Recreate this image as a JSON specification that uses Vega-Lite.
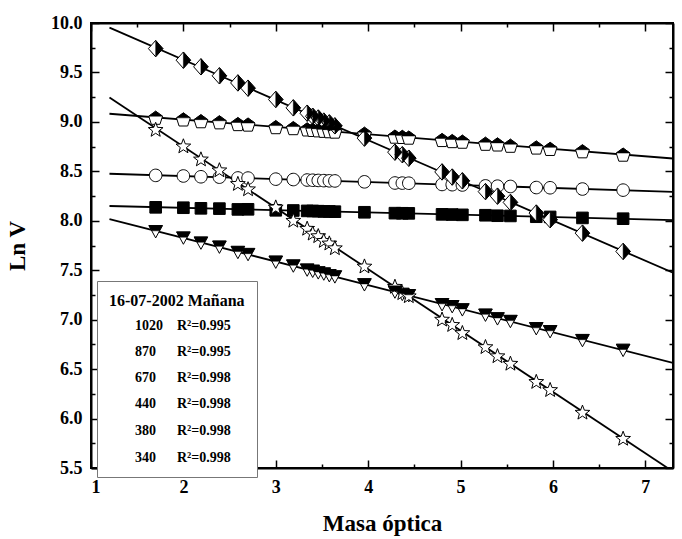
{
  "$schema": "https://vega.github.io/schema/vega-lite/v6.json",
  "width": 582,
  "height": 445,
  "autosize": "none",
  "padding": {"left": 91, "top": 23, "right": 9, "bottom": 71},
  "background": "white",
  "config": {
    "view": {"stroke": "black", "strokeWidth": 2},
    "font": "Liberation Serif",
    "axis": {
      "grid": false,
      "domain": true,
      "ticks": true,
      "domainColor": "black",
      "domainWidth": 2,
      "tickColor": "black",
      "tickWidth": 1.5,
      "labelFont": "Liberation Serif",
      "labelFontWeight": "bold",
      "labelFontSize": 18,
      "labelColor": "black",
      "titleFont": "Liberation Serif",
      "titleFontWeight": "bold",
      "titleFontSize": 23,
      "titleColor": "black"
    }
  },
  "data": {
    "values": [
      {"series": "1020", "am": 1.70, "lnv": 8.136}, {"series": "1020", "am": 2.00, "lnv": 8.132}, {"series": "1020", "am": 2.19, "lnv": 8.126}, {"series": "1020", "am": 2.39, "lnv": 8.123}, {"series": "1020", "am": 2.59, "lnv": 8.115}, {"series": "1020", "am": 2.70, "lnv": 8.116}, {"series": "1020", "am": 3.00, "lnv": 8.106}, {"series": "1020", "am": 3.19, "lnv": 8.104}, {"series": "1020", "am": 3.34, "lnv": 8.100}, {"series": "1020", "am": 3.40, "lnv": 8.099}, {"series": "1020", "am": 3.46, "lnv": 8.097}, {"series": "1020", "am": 3.52, "lnv": 8.095}, {"series": "1020", "am": 3.58, "lnv": 8.094}, {"series": "1020", "am": 3.64, "lnv": 8.092}, {"series": "1020", "am": 3.96, "lnv": 8.086}, {"series": "1020", "am": 4.29, "lnv": 8.077}, {"series": "1020", "am": 4.37, "lnv": 8.076}, {"series": "1020", "am": 4.44, "lnv": 8.075}, {"series": "1020", "am": 4.80, "lnv": 8.065}, {"series": "1020", "am": 4.91, "lnv": 8.063}, {"series": "1020", "am": 5.02, "lnv": 8.060}, {"series": "1020", "am": 5.27, "lnv": 8.056}, {"series": "1020", "am": 5.40, "lnv": 8.051}, {"series": "1020", "am": 5.54, "lnv": 8.049}, {"series": "1020", "am": 5.82, "lnv": 8.041}, {"series": "1020", "am": 5.97, "lnv": 8.039}, {"series": "1020", "am": 6.32, "lnv": 8.029}, {"series": "1020", "am": 6.76, "lnv": 8.021},
      {"series": "870", "am": 1.70, "lnv": 8.459}, {"series": "870", "am": 2.00, "lnv": 8.453}, {"series": "870", "am": 2.19, "lnv": 8.445}, {"series": "870", "am": 2.39, "lnv": 8.441}, {"series": "870", "am": 2.59, "lnv": 8.433}, {"series": "870", "am": 2.70, "lnv": 8.432}, {"series": "870", "am": 3.00, "lnv": 8.421}, {"series": "870", "am": 3.19, "lnv": 8.417}, {"series": "870", "am": 3.34, "lnv": 8.412}, {"series": "870", "am": 3.40, "lnv": 8.410}, {"series": "870", "am": 3.46, "lnv": 8.408}, {"series": "870", "am": 3.52, "lnv": 8.406}, {"series": "870", "am": 3.58, "lnv": 8.404}, {"series": "870", "am": 3.64, "lnv": 8.403}, {"series": "870", "am": 3.96, "lnv": 8.394}, {"series": "870", "am": 4.29, "lnv": 8.382}, {"series": "870", "am": 4.37, "lnv": 8.381}, {"series": "870", "am": 4.44, "lnv": 8.380}, {"series": "870", "am": 4.80, "lnv": 8.367}, {"series": "870", "am": 4.91, "lnv": 8.365}, {"series": "870", "am": 5.02, "lnv": 8.362}, {"series": "870", "am": 5.27, "lnv": 8.353}, {"series": "870", "am": 5.40, "lnv": 8.350}, {"series": "870", "am": 5.54, "lnv": 8.347}, {"series": "870", "am": 5.82, "lnv": 8.336}, {"series": "870", "am": 5.97, "lnv": 8.334}, {"series": "870", "am": 6.32, "lnv": 8.321}, {"series": "870", "am": 6.76, "lnv": 8.310},
      {"series": "670", "am": 1.70, "lnv": 9.042}, {"series": "670", "am": 2.00, "lnv": 9.025}, {"series": "670", "am": 2.19, "lnv": 9.007}, {"series": "670", "am": 2.39, "lnv": 8.996}, {"series": "670", "am": 2.59, "lnv": 8.978}, {"series": "670", "am": 2.70, "lnv": 8.973}, {"series": "670", "am": 3.00, "lnv": 8.947}, {"series": "670", "am": 3.19, "lnv": 8.937}, {"series": "670", "am": 3.34, "lnv": 8.924}, {"series": "670", "am": 3.40, "lnv": 8.919}, {"series": "670", "am": 3.46, "lnv": 8.915}, {"series": "670", "am": 3.52, "lnv": 8.910}, {"series": "670", "am": 3.58, "lnv": 8.906}, {"series": "670", "am": 3.64, "lnv": 8.902}, {"series": "670", "am": 3.96, "lnv": 8.880}, {"series": "670", "am": 4.29, "lnv": 8.851}, {"series": "670", "am": 4.37, "lnv": 8.848}, {"series": "670", "am": 4.44, "lnv": 8.841}, {"series": "670", "am": 4.80, "lnv": 8.817}, {"series": "670", "am": 4.91, "lnv": 8.806}, {"series": "670", "am": 5.02, "lnv": 8.800}, {"series": "670", "am": 5.27, "lnv": 8.779}, {"series": "670", "am": 5.40, "lnv": 8.772}, {"series": "670", "am": 5.54, "lnv": 8.759}, {"series": "670", "am": 5.82, "lnv": 8.741}, {"series": "670", "am": 5.97, "lnv": 8.727}, {"series": "670", "am": 6.32, "lnv": 8.703}, {"series": "670", "am": 6.76, "lnv": 8.669},
      {"series": "440", "am": 1.70, "lnv": 7.893}, {"series": "440", "am": 2.00, "lnv": 7.829}, {"series": "440", "am": 2.19, "lnv": 7.778}, {"series": "440", "am": 2.39, "lnv": 7.737}, {"series": "440", "am": 2.59, "lnv": 7.683}, {"series": "440", "am": 2.70, "lnv": 7.662}, {"series": "440", "am": 3.00, "lnv": 7.585}, {"series": "440", "am": 3.19, "lnv": 7.546}, {"series": "440", "am": 3.34, "lnv": 7.505}, {"series": "440", "am": 3.40, "lnv": 7.493}, {"series": "440", "am": 3.46, "lnv": 7.477}, {"series": "440", "am": 3.52, "lnv": 7.465}, {"series": "440", "am": 3.58, "lnv": 7.448}, {"series": "440", "am": 3.64, "lnv": 7.436}, {"series": "440", "am": 3.96, "lnv": 7.356}, {"series": "440", "am": 4.29, "lnv": 7.283}, {"series": "440", "am": 4.37, "lnv": 7.259}, {"series": "440", "am": 4.44, "lnv": 7.246}, {"series": "440", "am": 4.80, "lnv": 7.155}, {"series": "440", "am": 4.91, "lnv": 7.135}, {"series": "440", "am": 5.02, "lnv": 7.103}, {"series": "440", "am": 5.27, "lnv": 7.049}, {"series": "440", "am": 5.40, "lnv": 7.012}, {"series": "440", "am": 5.54, "lnv": 6.985}, {"series": "440", "am": 5.82, "lnv": 6.912}, {"series": "440", "am": 5.97, "lnv": 6.882}, {"series": "440", "am": 6.32, "lnv": 6.792}, {"series": "440", "am": 6.76, "lnv": 6.693},
      {"series": "380", "am": 1.70, "lnv": 9.741}, {"series": "380", "am": 2.00, "lnv": 9.624}, {"series": "380", "am": 2.19, "lnv": 9.557}, {"series": "380", "am": 2.39, "lnv": 9.466}, {"series": "380", "am": 2.59, "lnv": 9.394}, {"series": "380", "am": 2.70, "lnv": 9.341}, {"series": "380", "am": 3.00, "lnv": 9.227}, {"series": "380", "am": 3.19, "lnv": 9.142}, {"series": "380", "am": 3.34, "lnv": 9.088}, {"series": "380", "am": 3.40, "lnv": 9.057}, {"series": "380", "am": 3.46, "lnv": 9.039}, {"series": "380", "am": 3.52, "lnv": 9.008}, {"series": "380", "am": 3.58, "lnv": 8.990}, {"series": "380", "am": 3.64, "lnv": 8.960}, {"series": "380", "am": 3.96, "lnv": 8.836}, {"series": "380", "am": 4.29, "lnv": 8.694}, {"series": "380", "am": 4.37, "lnv": 8.668}, {"series": "380", "am": 4.44, "lnv": 8.633}, {"series": "380", "am": 4.80, "lnv": 8.494}, {"series": "380", "am": 4.91, "lnv": 8.442}, {"series": "380", "am": 5.02, "lnv": 8.404}, {"series": "380", "am": 5.27, "lnv": 8.295}, {"series": "380", "am": 5.40, "lnv": 8.249}, {"series": "380", "am": 5.54, "lnv": 8.186}, {"series": "380", "am": 5.82, "lnv": 8.078}, {"series": "380", "am": 5.97, "lnv": 8.011}, {"series": "380", "am": 6.32, "lnv": 7.875}, {"series": "380", "am": 6.76, "lnv": 7.690},
      {"series": "340", "am": 1.70, "lnv": 8.925}, {"series": "340", "am": 2.00, "lnv": 8.758}, {"series": "340", "am": 2.19, "lnv": 8.626}, {"series": "340", "am": 2.39, "lnv": 8.516}, {"series": "340", "am": 2.59, "lnv": 8.378}, {"series": "340", "am": 2.70, "lnv": 8.324}, {"series": "340", "am": 3.00, "lnv": 8.140}, {"series": "340", "am": 3.19, "lnv": 8.006}, {"series": "340", "am": 3.34, "lnv": 7.925}, {"series": "340", "am": 3.40, "lnv": 7.876}, {"series": "340", "am": 3.46, "lnv": 7.850}, {"series": "340", "am": 3.52, "lnv": 7.802}, {"series": "340", "am": 3.58, "lnv": 7.776}, {"series": "340", "am": 3.64, "lnv": 7.728}, {"series": "340", "am": 3.96, "lnv": 7.543}, {"series": "340", "am": 4.29, "lnv": 7.338}, {"series": "340", "am": 4.37, "lnv": 7.274}, {"series": "340", "am": 4.44, "lnv": 7.243}, {"series": "340", "am": 4.80, "lnv": 7.006}, {"series": "340", "am": 4.91, "lnv": 6.952}, {"series": "340", "am": 5.02, "lnv": 6.870}, {"series": "340", "am": 5.27, "lnv": 6.728}, {"series": "340", "am": 5.40, "lnv": 6.636}, {"series": "340", "am": 5.54, "lnv": 6.560}, {"series": "340", "am": 5.82, "lnv": 6.376}, {"series": "340", "am": 5.97, "lnv": 6.294}, {"series": "340", "am": 6.32, "lnv": 6.065}, {"series": "340", "am": 6.76, "lnv": 5.801}
    ]
  },
  "layer": [
    {
      "transform": [{"regression": "lnv", "on": "am", "groupby": ["series"], "extent": [1.2, 7.3]}],
      "mark": {"type": "line", "color": "black", "strokeWidth": 1.8, "clip": true},
      "encoding": {
        "x": {
          "field": "am", "type": "quantitative",
          "scale": {"domain": [1, 7.3], "nice": false, "zero": false},
          "axis": {
            "orient": "bottom",
            "title": "Masa óptica",
            "values": [1, 2, 3, 4, 5, 6, 7],
            "format": "d",
            "tickSize": -8,
            "labelPadding": 18,
            "titlePadding": 16
          }
        },
        "y": {
          "field": "lnv", "type": "quantitative",
          "scale": {"domain": [5.5, 10], "nice": false, "zero": false},
          "axis": {
            "orient": "left",
            "title": "Ln V",
            "values": [5.5, 6, 6.5, 7, 7.5, 8, 8.5, 9, 9.5, 10],
            "format": ".1f",
            "tickSize": -8,
            "labelPadding": 17,
            "titlePadding": 21
          }
        },
        "detail": {"field": "series", "type": "nominal"}
      }
    },
    {
      "mark": {"type": "point", "opacity": 0},
      "encoding": {
        "x": {
          "field": "am", "type": "quantitative",
          "axis": {"orient": "bottom", "title": null, "labels": false, "domain": false, "values": [1.5, 2.5, 3.5, 4.5, 5.5, 6.5], "tickSize": -4}
        },
        "y": {
          "field": "lnv", "type": "quantitative",
          "axis": {"orient": "left", "title": null, "labels": false, "domain": false, "values": [5.75, 6.25, 6.75, 7.25, 7.75, 8.25, 8.75, 9.25, 9.75], "tickSize": -4}
        }
      }
    },
    {
      "mark": {"type": "point", "opacity": 0},
      "encoding": {
        "x": {
          "field": "am", "type": "quantitative",
          "axis": {"orient": "top", "title": null, "labels": false, "domain": false, "values": [1.5, 2.5, 3.5, 4.5, 5.5, 6.5], "tickSize": -4}
        },
        "y": {
          "field": "lnv", "type": "quantitative",
          "axis": {"orient": "right", "title": null, "labels": false, "domain": false, "values": [5.75, 6.25, 6.75, 7.25, 7.75, 8.25, 8.75, 9.25, 9.75], "tickSize": -4}
        }
      }
    },
    {
      "mark": {"type": "point", "filled": false, "stroke": "black", "strokeWidth": 1, "size": 240, "opacity": 1, "fillOpacity": 1, "strokeOpacity": 1},
      "encoding": {
        "x": {
          "field": "am", "type": "quantitative",
          "axis": {"orient": "top", "title": null, "labels": false, "values": [1, 2, 3, 4, 5, 6, 7], "tickSize": -8}
        },
        "y": {
          "field": "lnv", "type": "quantitative",
          "axis": {"orient": "right", "title": null, "labels": false, "values": [5.5, 6, 6.5, 7, 7.5, 8, 8.5, 9, 9.5, 10], "tickSize": -8}
        },
        "fill": {
          "condition": {"test": "datum.series == '1020'", "value": "black"},
          "value": "white"
        },
        "shape": {
          "field": "series", "type": "nominal",
          "scale": {
            "domain": ["1020", "870", "670", "440", "380", "340"],
            "range": [
              "M-0.75,-0.75H0.75V0.75H-0.75Z",
              "M0.81,0A0.81,0.81,0,1,1,-0.81,0A0.81,0.81,0,1,1,0.81,0Z",
              "M0,-0.85L0.894,-0.2L0.553,0.85L-0.553,0.85L-0.894,-0.2Z",
              "M-0.875,-0.75L0.875,-0.75L0,0.85Z",
              "M0,-1.06L0.94,0L0,1.06L-0.94,0Z",
              "M0,-0.91L0.247,-0.25L0.951,-0.219L0.399,0.22L0.588,0.899L0,0.51L-0.588,0.899L-0.399,0.22L-0.951,-0.219L-0.247,-0.25Z"
            ]
          },
          "legend": {
            "title": "16-07-2002 Mañana",
            "orient": "none",
            "legendX": 6,
            "legendY": 258,
            "padding": 12,
            "strokeColor": "#777777",
            "fillColor": "white",
            "titleFont": "Liberation Serif",
            "titleFontSize": 16,
            "titleFontWeight": "bold",
            "titleColor": "black",
            "titlePadding": 10,
            "labelFont": "Liberation Serif",
            "labelFontSize": 14,
            "labelFontWeight": "bold",
            "labelColor": "black",
            "labelOffset": 12,
            "symbolSize": 100,
            "symbolStrokeColor": "black",
            "symbolStrokeWidth": 1.2,
            "symbolFillColor": "white",
            "symbolOpacity": 1,
            "rowPadding": 12,
            "labelExpr": "{'1020': '1020\u00a0\u00a0\u00a0\u00a0R²=0.995', '870': '870\u00a0\u00a0\u00a0\u00a0\u00a0\u00a0R²=0.995', '670': '670\u00a0\u00a0\u00a0\u00a0\u00a0\u00a0R²=0.998', '440': '440\u00a0\u00a0\u00a0\u00a0\u00a0\u00a0R²=0.998', '380': '380\u00a0\u00a0\u00a0\u00a0\u00a0\u00a0R²=0.998', '340': '340\u00a0\u00a0\u00a0\u00a0\u00a0\u00a0R²=0.998'}[datum.label]"
          }
        }
      }
    },
    {
      "transform": [{"filter": "datum.series == '670'"}],
      "mark": {"type": "point", "shape": "M0,-0.85L0.894,-0.2L-0.894,-0.2Z", "filled": true, "fill": "black", "stroke": "black", "strokeWidth": 0.5, "size": 240, "opacity": 1},
      "encoding": {
        "x": {"field": "am", "type": "quantitative", "axis": null},
        "y": {"field": "lnv", "type": "quantitative", "axis": null}
      }
    },
    {
      "transform": [{"filter": "datum.series == '440'"}],
      "mark": {"type": "point", "shape": "M-0.875,-0.75L0.875,-0.75L0.5,-0.07L-0.5,-0.07Z", "filled": true, "fill": "black", "stroke": "black", "strokeWidth": 0.5, "size": 240, "opacity": 1},
      "encoding": {
        "x": {"field": "am", "type": "quantitative", "axis": null},
        "y": {"field": "lnv", "type": "quantitative", "axis": null}
      }
    },
    {
      "transform": [{"filter": "datum.series == '380'"}],
      "mark": {"type": "point", "shape": "M0,-1.06L0.94,0L0,1.06Z", "filled": true, "fill": "black", "stroke": "black", "strokeWidth": 0.5, "size": 240, "opacity": 1},
      "encoding": {
        "x": {"field": "am", "type": "quantitative", "axis": null},
        "y": {"field": "lnv", "type": "quantitative", "axis": null}
      }
    }
  ],
  "resolve": {"axis": {"x": "independent", "y": "independent"}}
}
